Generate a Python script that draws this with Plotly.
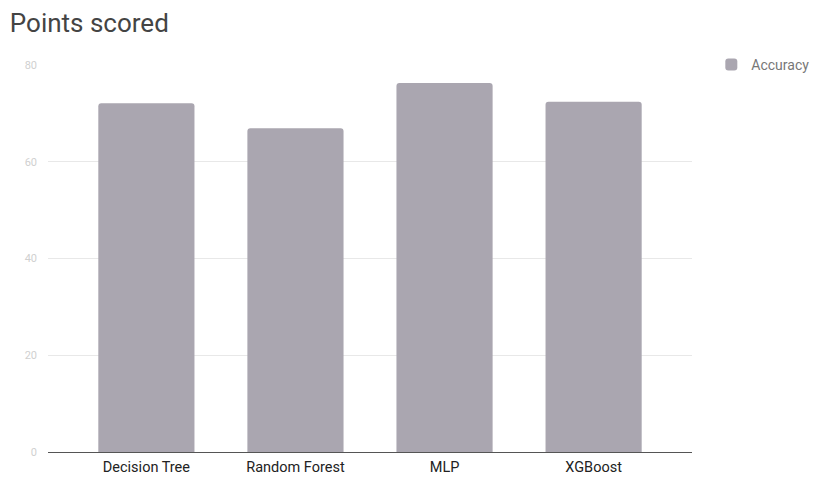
import plotly.graph_objects as go

categories = ["Decision Tree", "Random Forest", "MLP", "XGBoost"]
accuracy = [72.1, 66.9, 76.3, 72.4]
y_ticks = [0, 20, 40, 60, 80]

fig = go.Figure()
fig.add_trace(go.Bar(
    x=categories, y=accuracy, name="Accuracy",
    marker=dict(color="#aaa6b0", line=dict(width=0), cornerradius=3),
    width=0.645,
))
fig.update_layout(
    width=819, height=479,
    margin=dict(l=48, r=127, t=65, b=27, autoexpand=False),
    paper_bgcolor="white", plot_bgcolor="white",
    font=dict(family="Roboto", color="#333"),
    title=dict(text="Points scored", x=0.012, xanchor="left", y=0.953, yanchor="middle",
               font=dict(family="Roboto", size=26, color="#444")),
    showlegend=True,
    legend=dict(x=1.03, xanchor="left", y=1.0, yanchor="middle",
                font=dict(family="Roboto", size=14, color="#777"),
                itemsizing="constant", itemwidth=30),
    xaxis=dict(range=[-0.66, 3.66], showgrid=False, showline=True, linecolor="#555",
               linewidth=1, ticks="", automargin=False, ticklabelstandoff=2,
               tickfont=dict(family="Roboto", size=14.5, color="#222")),
    yaxis=dict(range=[0, 80], tickvals=y_ticks, showgrid=True, gridcolor="#e8e8e8",
               zeroline=False, showline=False, ticks="", automargin=False,
               tickfont=dict(family="Roboto", size=11, color="#d0d0d0"), ticklabelstandoff=10),
)
fig.write_html("out.html")
